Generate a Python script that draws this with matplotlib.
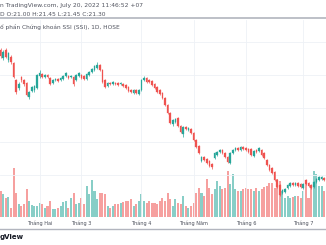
import numpy as np
import matplotlib.pyplot as plt
from matplotlib.lines import Line2D

# SSI, phiên ngày (giá nghìn đồng, khối lượng triệu cp)
opens = [40.75, 39.55, 40.75, 39.25, 39.7, 38.8, 36.25, 35.05, 36.7, 36.25,
         35.8, 33.7, 34.6, 34.75, 35.05, 36.85, 37.15, 36.7, 37.0, 36.55,
         35.8, 36.25, 36.4, 36.25, 36.4, 36.85, 36.85, 36.7, 36.7, 36.25,
         36.85, 37.0, 36.85, 36.4, 37.0, 37.45, 37.75, 38.05, 38.5, 37.75,
         36.25, 35.35, 35.8, 35.65, 35.8, 35.8, 35.65, 35.65, 35.5, 35.2,
         34.75, 34.3, 34.75, 34.15, 34.75, 36.25, 36.55, 36.25, 36.1, 35.65,
         35.2, 34.75, 34.3, 33.55, 32.5, 31.3, 29.65, 29.95, 30.55, 29.35,
         28.15, 29.2, 28.75, 28.9, 28.3, 27.25, 26.35, 24.1, 24.7, 24.4,
         24.1, 23.65, 24.55, 25.0, 25.45, 25.75, 25.3, 24.7, 23.8, 25.3,
         25.75, 26.05, 25.75, 26.2, 26.05, 25.9, 25.9, 24.85, 25.75, 25.6,
         25.75, 25.3, 24.25, 23.5, 23.05, 22.45, 21.25, 20.5, 19.3, 19.45,
         20.05, 20.35, 20.8, 20.5, 20.8, 20.65, 20.05, 21.25, 20.8, 20.5,
         20.2, 20.95, 21.25, 21.4, 21.55]
closes = [39.85, 40.45, 39.7, 40.3, 38.95, 36.7, 34.45, 35.65, 36.25, 35.65,
          34.0, 34.45, 35.2, 35.35, 37.0, 37.3, 36.7, 37.0, 36.7, 35.65,
          36.25, 36.4, 36.1, 36.55, 36.85, 37.3, 36.55, 36.85, 35.65, 37.0,
          37.3, 36.55, 36.4, 37.15, 37.45, 37.9, 38.35, 38.5, 37.75, 35.95,
          35.2, 35.8, 35.65, 35.95, 35.65, 35.5, 35.8, 35.35, 35.05, 34.6,
          34.45, 34.75, 34.3, 34.75, 36.25, 36.55, 35.95, 35.95, 35.5, 35.05,
          34.45, 34.15, 33.55, 32.5, 31.3, 29.8, 30.25, 30.4, 29.35, 28.45,
          29.2, 28.9, 29.05, 28.3, 27.25, 26.2, 25.3, 24.7, 24.25, 23.8,
          23.35, 23.2, 25.3, 25.45, 25.75, 25.3, 24.7, 23.95, 25.3, 25.75,
          26.05, 25.75, 26.2, 25.9, 25.75, 25.45, 25.0, 25.6, 25.45, 26.05,
          25.0, 24.55, 23.5, 22.75, 22.3, 21.25, 20.2, 19.0, 19.75, 19.9,
          20.5, 20.8, 20.5, 20.8, 20.35, 20.2, 20.65, 20.65, 20.35, 20.05,
          20.95, 21.4, 21.7, 21.7, 21.25]
highs = [41.05, 40.7, 41.0, 40.5, 39.95, 39.0, 36.4, 35.9, 36.9, 36.4,
         36.0, 34.6, 35.4, 35.5, 37.2, 37.75, 37.35, 37.2, 37.2, 36.7,
         36.4, 36.6, 36.6, 36.7, 37.0, 37.5, 37.0, 37.0, 36.85, 37.15,
         37.5, 37.2, 37.0, 37.3, 37.6, 38.1, 38.5, 38.95, 38.7, 37.9,
         36.4, 36.0, 36.0, 36.1, 36.0, 35.95, 36.0, 35.8, 35.65, 35.35,
         34.9, 34.9, 34.9, 34.9, 36.4, 36.85, 36.7, 36.4, 36.25, 35.8,
         35.35, 34.9, 34.45, 33.7, 32.65, 31.45, 30.4, 30.6, 30.7, 29.5,
         29.35, 29.35, 29.2, 29.05, 28.45, 27.4, 26.5, 24.85, 24.85, 24.55,
         24.25, 23.8, 25.45, 25.6, 25.9, 25.9, 25.45, 24.85, 25.45, 25.9,
         26.2, 26.2, 26.35, 26.35, 26.2, 26.05, 26.05, 25.75, 25.9, 26.2,
         25.9, 25.45, 24.4, 23.65, 23.2, 22.6, 21.4, 20.65, 19.9, 20.05,
         20.65, 20.95, 20.95, 20.95, 20.95, 20.8, 20.8, 21.4, 20.95, 20.65,
         21.1, 21.55, 21.85, 21.85, 21.7]
lows = [39.6, 39.3, 39.5, 39.0, 38.7, 36.5, 34.2, 34.8, 36.0, 35.4,
        33.8, 33.4, 34.4, 34.5, 34.9, 36.6, 36.5, 36.5, 36.5, 35.45,
        35.6, 36.05, 35.9, 36.05, 36.2, 36.7, 36.35, 36.5, 35.4, 36.05,
        36.7, 36.35, 36.2, 36.2, 36.8, 37.3, 37.6, 37.9, 37.6, 35.75,
        35.0, 35.2, 35.5, 35.5, 35.5, 35.35, 35.5, 35.2, 34.9, 34.45,
        34.3, 34.15, 34.15, 34.0, 34.6, 36.1, 35.8, 35.8, 35.35, 34.9,
        34.3, 34.0, 33.4, 32.35, 31.15, 29.65, 29.4, 29.8, 29.2, 28.3,
        27.7, 28.75, 28.6, 28.15, 27.1, 26.05, 25.15, 23.95, 24.1, 23.65,
        23.2, 22.9, 24.4, 24.85, 25.3, 25.15, 24.55, 23.8, 23.65, 25.15,
        25.6, 25.6, 25.6, 25.75, 25.6, 25.3, 24.85, 24.7, 25.3, 25.45,
        24.85, 24.4, 23.35, 22.6, 22.15, 21.1, 20.05, 18.85, 19.15, 19.3,
        19.9, 20.2, 20.35, 20.35, 20.2, 20.05, 19.9, 20.5, 20.2, 19.9,
        20.05, 20.8, 21.1, 21.25, 21.1]
volumes = [26, 23, 19, 20, 9, 49, 24, 13, 11, 13,
           28, 16, 12, 11, 11, 14, 13, 9, 11, 16,
           8, 8, 9, 11, 15, 16, 9, 19, 24, 13,
           14, 19, 13, 31, 23, 37, 26, 18, 24, 24,
           23, 11, 9, 11, 13, 13, 14, 15, 16, 16,
           18, 11, 13, 16, 23, 16, 14, 16, 14, 14,
           13, 16, 19, 16, 24, 18, 11, 18, 14, 13,
           21, 11, 9, 11, 14, 24, 29, 24, 21, 38,
           29, 23, 28, 36, 31, 28, 29, 46, 33, 43,
           28, 26, 26, 28, 29, 28, 28, 26, 29, 26,
           28, 30, 31, 34, 34, 29, 38, 36, 26, 19,
           21, 19, 20, 21, 21, 19, 26, 33, 19, 29,
           46, 43, 31, 31, 26]

month_pos = [15, 31, 54, 74, 94, 116]
month_labels = ["Tháng Hai", "Tháng 3", "Tháng 4", "Tháng Năm", "Tháng 6", "Tháng 7"]
price_grid = [22, 27, 32, 37, 42]

green = "#26a69a"
red = "#ef5350"
W, H = 326, 245

o = np.array(opens)
c = np.array(closes)
hi = np.array(highs)
lo = np.array(lows)
idx = np.arange(len(o))
up = c >= o
cols = np.where(up, green, red)

fig = plt.figure(figsize=(W / 100, H / 100), dpi=100)
rect = [0, (H - 217) / H, 1, 197 / H]

# khối lượng (nền)
axv = fig.add_axes(rect)
axv.bar(idx, volumes, width=0.78, color=cols, alpha=0.55, linewidth=0)
axv.set_ylim(0, 197)
axv.set_xlim(-0.2, 124.7)
axv.axis("off")

# nến
ax = fig.add_axes(rect, sharex=axv)
ax.patch.set_visible(False)
for p in price_grid:
    ax.axhline(p, color="#eef1f6", lw=0.6, zorder=0)
for m in month_pos:
    ax.axvline(m, color="#eef1f6", lw=0.6, zorder=0)
ax.vlines(idx, lo, hi, colors=cols, lw=0.5, zorder=2)
body_lo = np.minimum(o, c)
body_h = np.maximum(np.abs(c - o), 0.12)
ax.bar(idx, body_h, bottom=body_lo, width=0.62, color=cols,
       edgecolor=cols, linewidth=0.2, zorder=3)
ax.set_ylim(15.7, 45.25)
ax.set_xlim(-0.2, 124.7)
ax.set_xticks(month_pos)
ax.set_xticklabels(month_labels, fontsize=3.6, color="#4a4e5a")
ax.tick_params(axis="x", length=0, pad=2.2)
ax.set_yticks([])
for s in ax.spines.values():
    s.set_visible(False)

# tiêu đề, đường kẻ
fig.text(0, 1 - 5 / H, "n TradingView.com, July 20, 2022 11:46:52 +07",
         fontsize=4.3, color="#50535e", va="center", ha="left")
fig.text(0, 1 - 14 / H, "D O:21.00 H:21.45 L:21.45 C:21.30",
         fontsize=4.3, color="#50535e", va="center", ha="left")
fig.text(0, 1 - 27 / H, "ổ phần Chứng khoán SSI (SSI), 1D, HOSE",
         fontsize=4.2, color="#50535e", va="center", ha="left")
fig.add_artist(Line2D([0, 1], [1 - 18.5 / H] * 2, color="#b2b5be", lw=1.2))
fig.add_artist(Line2D([0, 1], [1 - 228.5 / H] * 2, color="#b2b5be", lw=1.0))
fig.text(0, 1 - 237 / H, "gView", fontsize=5, fontweight="bold",
         color="#131722", va="center", ha="left")

fig.savefig("out.png", dpi=100, facecolor="white")
